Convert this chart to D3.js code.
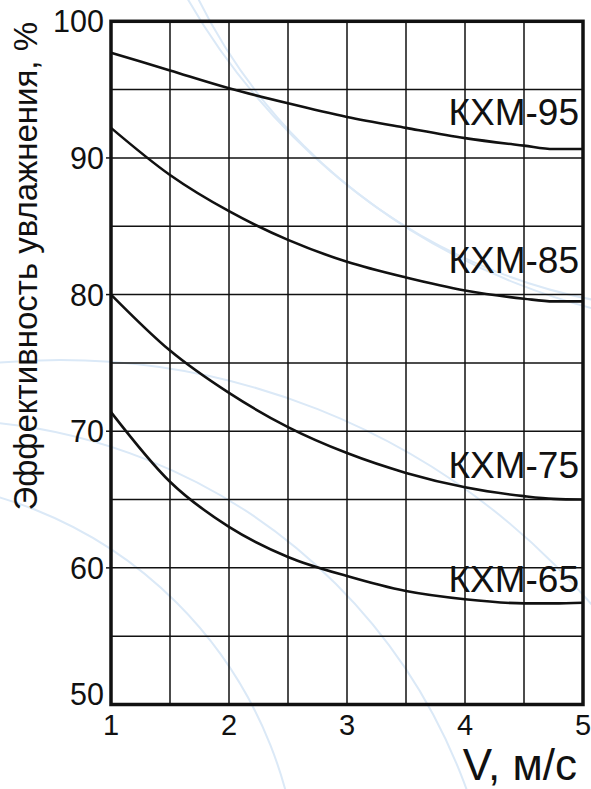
<!DOCTYPE html>
<html><head><meta charset="utf-8">
<script src="https://cdn.jsdelivr.net/npm/d3@7/dist/d3.min.js"></script>
<style>
html,body{margin:0;padding:0;background:#fff;}
svg{display:block;}
text{font-family:"Liberation Sans",Arial,sans-serif;fill:#111;}
</style></head>
<body>
<script>
// ---- data ----
const xValues = [1, 1.5, 2, 2.5, 3, 3.5, 4, 4.5, 4.75, 5];
const kxm95 = [97.7, 96.4, 95.1, 94.0, 93.0, 92.2, 91.45, 90.9, 90.65, 90.65];
const kxm85 = [92.2, 88.75, 86.1, 84.0, 82.4, 81.25, 80.3, 79.7, 79.5, 79.5];
const kxm75 = [80.0, 75.9, 72.8, 70.3, 68.4, 66.95, 65.9, 65.25, 65.05, 65.0];
const kxm65 = [71.4, 66.3, 63.0, 60.8, 59.4, 58.3, 57.7, 57.4, 57.4, 57.45];
const seriesNames = ["КХМ-95", "КХМ-85", "КХМ-75", "КХМ-65"];
const labelValues = [92.4, 81.6, 66.6, 58.26];
const xTicks = [1, 2, 3, 4, 5];
const yTicks = [50, 60, 70, 80, 90, 100];
const xGrid = [1.5, 2, 2.5, 3, 3.5, 4, 4.5];
const yGrid = [55, 60, 65, 70, 75, 80, 85, 90, 95];
const xTitle = "V, м/с";
const yTitle = "Эффективность увлажнения, %";

const W = 591, H = 789;
const pL = 111, pR = 583, pT = 21.3, pB = 704.5;
const svg = d3.select("body").append("svg").attr("width", W).attr("height", H);

const x = d3.scaleLinear().domain([1, 5]).range([pL, pR]);
const y = d3.scaleLinear().domain([50, 100]).range([pB, pT]);

// faint background watermark
const wm = svg.append("g").attr("fill", "none").attr("stroke", "#dbe9f7").attr("stroke-width", 2);
[[-120, 900, 420], [-60, 980, 560], [60, 1060, 700]].forEach(([cx, cy, r]) => {
  wm.append("circle").attr("cx", cx).attr("cy", cy).attr("r", r);
});
[[700, -250, 560], [760, -330, 660]].forEach(([cx, cy, r]) => {
  wm.append("circle").attr("cx", cx).attr("cy", cy).attr("r", r);
});

// grid
const g = svg.append("g");
g.selectAll(".vg").data(xGrid).enter().append("line")
  .attr("x1", d => x(d)).attr("x2", d => x(d)).attr("y1", pT).attr("y2", pB)
  .attr("stroke", "#111").attr("stroke-width", 1.5);
g.selectAll(".hg").data(yGrid).enter().append("line")
  .attr("x1", pL).attr("x2", pR).attr("y1", d => y(d)).attr("y2", d => y(d))
  .attr("stroke", "#111").attr("stroke-width", 1.5);
g.selectAll(".yt").data(yTicks.filter(d => d > 50 && d < 100)).enter().append("line")
  .attr("x1", pL - 5).attr("x2", pL).attr("y1", d => y(d)).attr("y2", d => y(d))
  .attr("stroke", "#111").attr("stroke-width", 1.5);

// curves
const line = d3.line().x(d => x(d[0])).y(d => y(d[1])).curve(d3.curveMonotoneX);
[kxm95, kxm85, kxm75, kxm65].forEach((s, i) => {
  svg.append("path").datum(xValues.map((v, j) => [v, s[j]]))
    .attr("d", line).attr("fill", "none").attr("stroke", "#111").attr("stroke-width", 2.6);
  svg.append("text").attr("x", pR - 4).attr("y", y(labelValues[i]))
    .attr("text-anchor", "end").attr("font-size", 37).text(seriesNames[i]);
});

// frame
svg.append("rect").attr("x", pL).attr("y", pT).attr("width", pR - pL).attr("height", pB - pT)
  .attr("fill", "none").attr("stroke", "#111").attr("stroke-width", 3.5);

// y tick labels
svg.selectAll(".ytl").data(yTicks).enter().append("text")
  .attr("x", pL - 7).attr("y", d => y(d) + (d === 50 ? -10 : 0)).attr("dy", "0.36em")
  .attr("text-anchor", "end").attr("font-size", 30.5).text(d => d);
// x tick labels
svg.selectAll(".xtl").data(xTicks).enter().append("text")
  .attr("x", d => x(d)).attr("y", 735)
  .attr("text-anchor", "middle").attr("font-size", 29).text(d => d);

// titles
svg.append("text").attr("x", 577).attr("y", 780).attr("text-anchor", "end")
  .attr("font-size", 44).text(xTitle);
svg.append("text").attr("transform", "translate(37,22) rotate(-90)")
  .attr("text-anchor", "end").attr("font-size", 33).text(yTitle);
</script>
</body></html>
